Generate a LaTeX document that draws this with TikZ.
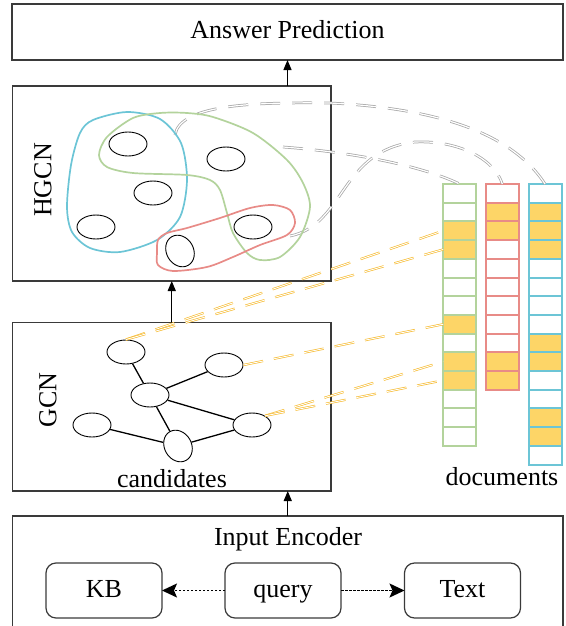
\documentclass[tikz,border=0pt]{standalone}
\usepackage{fontspec}
\setmainfont{Liberation Serif}
\usetikzlibrary{shapes.geometric,arrows.meta}
\definecolor{hcyan}{HTML}{6CC5D6}
\definecolor{hgreen}{HTML}{B3D39C}
\definecolor{hred}{HTML}{E88B87}
\definecolor{cellfill}{HTML}{FDD567}
\definecolor{dashorange}{HTML}{F6B92B}
\definecolor{boxline}{HTML}{3A3A3A}
\begin{document}
\begin{tikzpicture}[x=1pt,y=-1pt,font=\fontsize{26}{30}\selectfont,
  box/.style={draw=boxline,line width=1.2pt,inner sep=0pt,outer sep=0pt},
  rbox/.style={box,rounded corners=10pt,minimum width=116pt,minimum height=55pt,text height=18pt,text depth=5pt},
  ent/.style={ellipse,draw=black,line width=0.9pt,minimum width=38pt,minimum height=24pt,inner sep=0pt},
  tent/.style={ent,minimum width=33pt,minimum height=27pt,rotate=-60},
  arr/.style={-{Triangle[length=10pt,width=8pt]},line width=1.2pt,black},
  dotarr/.style={-{Stealth[length=15pt,width=14pt,inset=3pt]},line width=1.5pt,dash pattern=on 2.5pt off 1.5pt,black},
  edge/.style={line width=1.3pt,black},
  hull/.style={line width=1.7pt},
  gdash/.style={draw=gray!70,line width=0.75pt,double=white,double distance=1.2pt,dash pattern=on 20pt off 12pt},
  odash/.style={draw=dashorange,line width=0.65pt,double=white,double distance=0.9pt,dash pattern=on 20pt off 11pt},
  cell/.style={draw=#1,line width=2pt,minimum width=33pt,minimum height=18.7pt,inner sep=0pt,outer sep=0pt}]
\clip (0,0) rectangle (565,626);

% boxes
\node[box,minimum width=551pt,minimum height=56pt,text height=18pt,text depth=4pt] (ans) at (287.5,32) {Answer Prediction};
\node[box,minimum width=318.5pt,minimum height=195pt] (hgcn) at (171.75,183.5) {};
\node[box,minimum width=318.5pt,minimum height=168.3pt] (gcn) at (171.75,406.85) {};
\node[box,minimum width=550.5pt,minimum height=124pt] (enc) at (287.75,578) {};

\node[rotate=90] (hl) at (43,180) {HGCN};
\node[rotate=90] (gl) at (48,400) {GCN};
\node[anchor=base] (cand) at (172,487) {candidates};
\node[anchor=base] (docs) at (502,485) {documents};
\node[anchor=base] (encl) at (288,545) {Input Encoder};

\node[rbox] (kb) at (104,590.5) {KB};
\node[rbox] (qry) at (283,590.5) {query};
\node[rbox] (txt) at (462.5,590.5) {Text};
\draw[dotarr] (qry) -- (kb);
\draw[dotarr] (qry) -- (txt);

% arrows between stages
\draw[arr] (enc.north) -- (enc.north |- gcn.south);
\draw[arr] (gcn.north) -- (hgcn.south);
\draw[arr] (ans.south |- hgcn.north) -- (ans.south);

% document columns
\foreach \i in {0,...,13} {\node[cell=hgreen] (G\i) at (459.7,{184+18.7*\i+9.35}) {};}
\foreach \i in {2,3,7,9,10} {\node[cell=hgreen,fill=cellfill] at (G\i) {};}
\foreach \i in {0,...,10} {\node[cell=hred] (R\i) at (502.3,{184+18.7*\i+9.35}) {};}
\foreach \i in {1,2,9,10} {\node[cell=hred,fill=cellfill] at (R\i) {};}
\foreach \i in {0,...,14} {\node[cell=hcyan] (C\i) at (545,{184+18.7*\i+9.35}) {};}
\foreach \i in {1,2,3,8,9,12,13} {\node[cell=hcyan,fill=cellfill] at (C\i) {};}

% gray dashed links
\coordinate (s1) at (175,135);
\coordinate (s2) at (290,236);
\coordinate (s3) at (283,147);
\draw[gdash] (s1) .. controls (180,105) and (250,102) .. (330,103) .. controls (430,108) and (510,130) .. (C0.north);
\draw[gdash] (s2) .. controls (345,225) and (340,150) .. (415,142) .. controls (460,140) and (495,160) .. (R0.north);
\draw[gdash] (s3) .. controls (350,152) and (420,165) .. (G0.north);

% hyperedges
\draw[hull,hcyan] plot[smooth cycle] coordinates {(80,133) (93,120) (127,112) (160,119) (181,143) (187,180) (180,217) (157,240) (120,252) (90,248) (72,232) (67,207) (71,165)};
\draw[hull,hgreen] plot[smooth cycle] coordinates {(160,113) (133,118) (107,137) (99,155) (107,167) (133,173) (187,175) (210,180) (220,190) (227,213) (233,233) (247,253) (260,260) (280,257) (300,237) (310,207) (303,183) (287,160) (253,133) (213,117) (187,113)};
\draw[hull,hred] plot[smooth cycle] coordinates {(157,253) (158,265) (173,271) (207,267) (233,257) (260,245) (287,235) (295,223) (290,210) (273,205) (250,208) (220,218) (187,228) (167,233) (158,240)};

% HGCN entities
\node[ent] (e1) at (128,144) {};
\node[ent] (e2) at (226,159) {};
\node[ent] (e3) at (153,193) {};
\node[ent] (e4) at (96,227) {};
\node[ent] (e5) at (253,227) {};
\node[tent] (e6) at (180,251) {};

% GCN graph
\node[ent] (g1) at (126,352) {};
\node[ent] (g2) at (224,365) {};
\node[ent] (g3) at (150,395) {};
\node[ent] (g4) at (92,425) {};
\node[ent] (g5) at (252,425) {};
\node[tent] (g6) at (178,446) {};
\draw[edge] (g1) -- (g3);
\draw[edge] (g3) -- (g2);
\draw[edge] (g3) -- (g5);
\draw[edge] (g3) -- (g6);
\draw[edge] (g4) -- (g6);
\draw[edge] (g6) -- (g5);

% orange links
\draw[odash] (g1.north) -- (G2.west);
\draw[odash] (g1.north) -- (G3.west);
\draw[odash] (g2.east) -- (G7.west);
\draw[odash] (g5.35) -- (G9.west);
\draw[odash] (g5.35) -- (G10.west);
\end{tikzpicture}
\end{document}
